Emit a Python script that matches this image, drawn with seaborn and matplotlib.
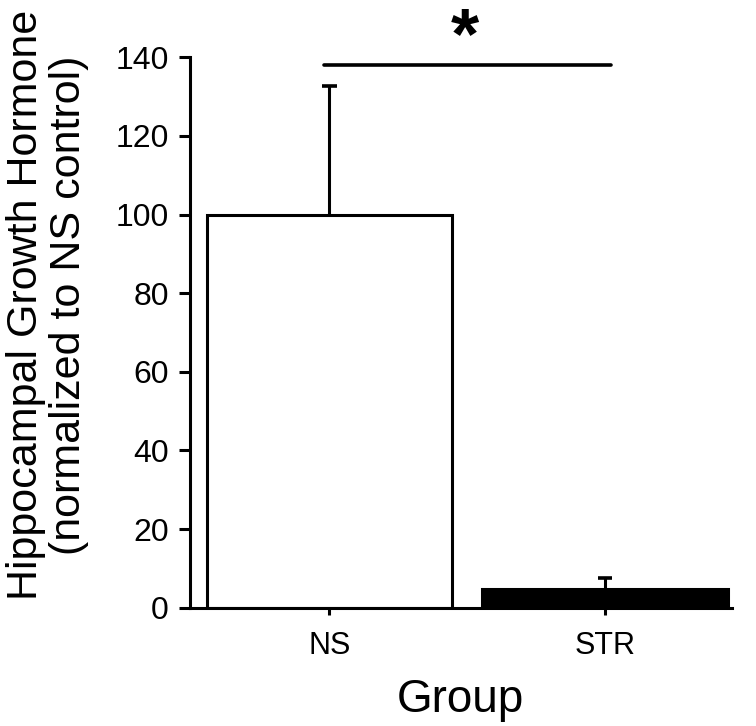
import pandas as pd
import matplotlib
matplotlib.use("Agg")
import matplotlib.pyplot as plt
import seaborn as sns

groups = ["NS", "STR"]
means = [100.0, 4.7]
sem_upper = [32.6, 2.8]
bar_colors = ["white", "black"]
sig_height = 138.0
sig_label = "*"

df = pd.DataFrame({"group": groups, "value": means})

sns.set_style("ticks")
plt.rcParams["font.family"] = ["Liberation Sans", "DejaVu Sans"]
for k in ["text.color", "axes.labelcolor", "xtick.color", "ytick.color", "axes.edgecolor"]:
    plt.rcParams[k] = "black"

fig = plt.figure(figsize=(7.56, 7.26), dpi=100)
ax = fig.add_axes([0.251, 0.163, 0.717, 0.758])

sns.barplot(data=df, x="group", y="value", hue="group", palette=bar_colors,
            edgecolor="black", linewidth=2.2, width=0.89, legend=False,
            errorbar=None, ax=ax)

# upper-only error bars (no lower cap)
for i, (m, e) in enumerate(zip(means, sem_upper)):
    ax.vlines(i, m, m + e, color="black", lw=2.2, zorder=3)
    ax.hlines(m + e, i - 0.027, i + 0.027, color="black", lw=2.6, zorder=3)

# significance bar
ax.plot([-0.02, 1.02], [sig_height, sig_height], color="black", lw=2.6,
        clip_on=False)
ax.text(0.49, sig_height - 2.0, sig_label, ha="center", va="bottom",
        fontsize=52, fontweight="bold", clip_on=False)

ax.set_xlim(-0.507, 1.46)
ax.set_ylim(0, 140)
ax.set_yticks(range(0, 141, 20))

sns.despine(ax=ax)
for s in ["left", "bottom"]:
    ax.spines[s].set_linewidth(2.2)
ax.tick_params(axis="y", length=8, width=2.2, pad=7, labelsize=23)
ax.tick_params(axis="x", length=5, width=2.2, pad=12, labelsize=22)

ax.set_xlabel("Group", fontsize=33, labelpad=12)
ax.set_ylabel("Hippocampal Growth Hormone\n(normalized to NS control)",
              fontsize=31, va="center", linespacing=1.1)
ax.yaxis.set_label_coords(-0.262, 0.55)

fig.savefig("out.png", dpi=100)
